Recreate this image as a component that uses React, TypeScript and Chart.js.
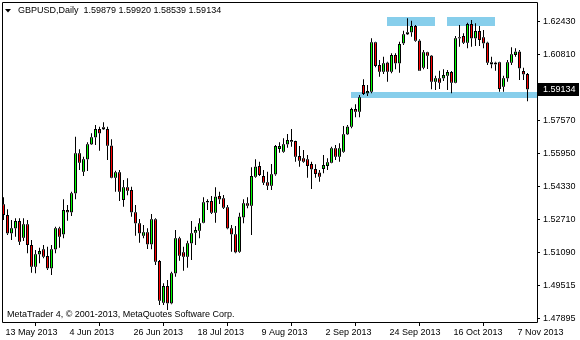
import React, { useEffect, useRef } from "react";
import { Chart, registerables } from "chart.js";

Chart.register(...registerables);

// ---------- data ----------
const symbolTitle = "GBPUSD,Daily";
const copyrightText = "MetaTrader 4, \u00A9 2001-2013, MetaQuotes Software Corp.";

const xTickLabels = [
  "13 May 2013", "4 Jun 2013", "26 Jun 2013", "18 Jul 2013", "9 Aug 2013",
  "2 Sep 2013", "24 Sep 2013", "16 Oct 2013", "7 Nov 2013",
];
const barsPerXTick = 16;

const yTickValues = [1.6243, 1.6081, 1.5757, 1.5595, 1.5433, 1.5271, 1.5109, 1.49515, 1.47895];

const opens = [
  1.53477, 1.52953, 1.52053, 1.52299, 1.52659, 1.51840, 1.52495, 1.51480, 1.50417, 1.51022,
  1.51268, 1.50940, 1.50335, 1.51268, 1.52299, 1.52004, 1.53199, 1.53084, 1.54017, 1.55981,
  1.55081, 1.55687, 1.56423, 1.56767, 1.57176, 1.57258, 1.57176, 1.56358, 1.54786, 1.55048,
  1.53690, 1.54312, 1.54181, 1.53084, 1.52544, 1.51939, 1.52102, 1.51513, 1.52741, 1.50695,
  1.48649, 1.49467, 1.48616, 1.50089, 1.51808, 1.51120, 1.50908, 1.51562, 1.52086, 1.52184,
  1.52577, 1.53575, 1.53641, 1.53068, 1.53886, 1.53772, 1.53330, 1.52299, 1.52004, 1.51153,
  1.52839, 1.53526, 1.53412, 1.54836, 1.55359, 1.54868, 1.54557, 1.54394, 1.54950, 1.56194,
  1.56063, 1.56423, 1.56554, 1.56587, 1.55850, 1.55736, 1.55687, 1.55457, 1.55212, 1.55032,
  1.55212, 1.55359, 1.55523, 1.56227, 1.55818, 1.56063, 1.56914, 1.57291, 1.58158, 1.58027,
  1.59336, 1.58927, 1.59009, 1.61431, 1.60318, 1.59991, 1.60433, 1.59991, 1.60809, 1.60400,
  1.61382, 1.61922, 1.61922, 1.62233, 1.61513, 1.60188, 1.60940, 1.60777, 1.59500, 1.59664,
  1.59664, 1.59795, 1.59975, 1.59451, 1.61677, 1.61742, 1.61415, 1.62332, 1.61628, 1.61988,
  1.61677, 1.61415, 1.60449, 1.60433, 1.60449, 1.59255, 1.59664, 1.60433, 1.60809, 1.60973,
  1.60024, 1.59879,
];
const highs = [
  1.53821, 1.53232, 1.52708, 1.52790, 1.52790, 1.52790, 1.52708, 1.51726, 1.51235, 1.51349,
  1.51480, 1.51399, 1.51480, 1.52381, 1.52381, 1.53723, 1.53444, 1.54099, 1.56800, 1.56178,
  1.55818, 1.56521, 1.56963, 1.57372, 1.57291, 1.57503, 1.57291, 1.56669, 1.55130, 1.55163,
  1.54672, 1.54754, 1.54345, 1.53444, 1.52757, 1.52462, 1.52299, 1.53002, 1.52790, 1.50744,
  1.49598, 1.49762, 1.50171, 1.52217, 1.51890, 1.51399, 1.51693, 1.52659, 1.52381, 1.52790,
  1.53821, 1.53723, 1.53886, 1.54312, 1.54099, 1.53935, 1.53444, 1.52462, 1.52413, 1.53068,
  1.53723, 1.53821, 1.55294, 1.55687, 1.55572, 1.55163, 1.55081, 1.55457, 1.56390, 1.56521,
  1.56718, 1.56930, 1.57176, 1.56603, 1.56341, 1.56145, 1.55899, 1.55572, 1.55441, 1.55163,
  1.55899, 1.55736, 1.56309, 1.56390, 1.56472, 1.57323, 1.57372, 1.58223, 1.58387, 1.58845,
  1.59615, 1.59336, 1.61628, 1.61464, 1.60564, 1.60728, 1.60482, 1.60891, 1.60891, 1.61464,
  1.62004, 1.62610, 1.62495, 1.62282, 1.61579, 1.61055, 1.60973, 1.60809, 1.59795, 1.60040,
  1.60106, 1.60073, 1.60024, 1.61742, 1.62282, 1.61873, 1.62397, 1.62528, 1.62364, 1.62233,
  1.62037, 1.61464, 1.60728, 1.60482, 1.60482, 1.59795, 1.60564, 1.61186, 1.61137, 1.61055,
  1.60188, 1.59920,
];
const lows = [
  1.52708, 1.51971, 1.51726, 1.51890, 1.51480, 1.51677, 1.51071, 1.50122, 1.50089, 1.50580,
  1.50826, 1.50253, 1.50007, 1.51071, 1.51349, 1.51808, 1.52675, 1.52904, 1.53723, 1.55163,
  1.54868, 1.55114, 1.56390, 1.56390, 1.56112, 1.57127, 1.55654, 1.54754, 1.54099, 1.53641,
  1.53363, 1.53919, 1.52872, 1.51939, 1.51595, 1.51808, 1.51284, 1.51268, 1.50498, 1.48534,
  1.48534, 1.48289, 1.48567, 1.49925, 1.50711, 1.50220, 1.50367, 1.50744, 1.51480, 1.51808,
  1.52544, 1.53199, 1.53002, 1.52577, 1.53494, 1.53248, 1.52250, 1.51153, 1.51071, 1.51104,
  1.52544, 1.53281, 1.51971, 1.54786, 1.54868, 1.54426, 1.54181, 1.54181, 1.54885, 1.56014,
  1.56014, 1.56259, 1.56309, 1.55572, 1.55327, 1.55523, 1.54786, 1.54230, 1.54786, 1.54590,
  1.54999, 1.55163, 1.55490, 1.55654, 1.55572, 1.56014, 1.56881, 1.57209, 1.57749, 1.57749,
  1.58845, 1.58796, 1.58927, 1.60204, 1.59746, 1.59877, 1.59500, 1.59909, 1.60106, 1.59942,
  1.61300, 1.61791, 1.61710, 1.61464, 1.60040, 1.60106, 1.60122, 1.59124, 1.59091, 1.59140,
  1.59533, 1.59091, 1.58927, 1.59418, 1.61219, 1.61350, 1.61137, 1.61219, 1.61251, 1.61251,
  1.61137, 1.60318, 1.60155, 1.60040, 1.59009, 1.59009, 1.59500, 1.60318, 1.60728, 1.59582,
  1.59582, 1.58539,
];
const closes = [
  1.52953, 1.52053, 1.52299, 1.52659, 1.51644, 1.52495, 1.51480, 1.50417, 1.51022, 1.51186,
  1.50908, 1.50335, 1.51268, 1.52299, 1.51890, 1.53199, 1.53084, 1.54017, 1.55981, 1.55523,
  1.55687, 1.56423, 1.56767, 1.57176, 1.56963, 1.57160, 1.56358, 1.54786, 1.55048, 1.54099,
  1.54312, 1.54148, 1.53084, 1.52544, 1.52053, 1.52102, 1.51513, 1.52741, 1.50662, 1.48747,
  1.49467, 1.48616, 1.50089, 1.51808, 1.50957, 1.50908, 1.51562, 1.52053, 1.52217, 1.52544,
  1.53575, 1.53641, 1.53068, 1.53854, 1.53723, 1.53313, 1.52299, 1.52004, 1.51120, 1.52872,
  1.53526, 1.53412, 1.54868, 1.55327, 1.54917, 1.54541, 1.54394, 1.54950, 1.56341, 1.56341,
  1.56423, 1.56636, 1.56636, 1.55818, 1.55621, 1.55572, 1.55359, 1.55196, 1.54966, 1.54835,
  1.55408, 1.55539, 1.56227, 1.55818, 1.56227, 1.56914, 1.57291, 1.58158, 1.58027, 1.58731,
  1.58895, 1.59042, 1.61431, 1.60269, 1.59991, 1.60400, 1.59991, 1.60809, 1.60400, 1.61350,
  1.61824, 1.61824, 1.62233, 1.61513, 1.60040, 1.60940, 1.60777, 1.59500, 1.59664, 1.59451,
  1.59827, 1.59975, 1.59451, 1.61628, 1.61628, 1.61415, 1.62332, 1.61628, 1.61988, 1.61546,
  1.61382, 1.60433, 1.60351, 1.60351, 1.59140, 1.59664, 1.60449, 1.60842, 1.60973, 1.60155,
  1.59860, 1.59134,
];

// highlighted zones (bar index from/to, price top/bottom); null "to" = runs to right edge
const zoneFrom = [86.9, 95.85, 110.85];
const zoneTo: (number | null)[] = [null, 107.9, 122.9];
const zoneTop = [1.59008, 1.6269, 1.6269];
const zoneBottom = [1.58713, 1.62234, 1.62234];

// ---------- styling ----------
const FONT = '"Liberation Sans", Arial, sans-serif';
const BULL = "#00FF00";
const BEAR = "#FF0000";
const ZONE = "#87CEEB";

export default function App() {
  const canvasRef = useRef<HTMLCanvasElement | null>(null);

  useEffect(() => {
    const canvas = canvasRef.current;
    if (!canvas) return;

    const idx = opens.map((_, i) => i);
    const bodyLo = idx.map((i) => Math.min(opens[i], closes[i]));
    const bodyHi = idx.map((i) => Math.max(opens[i], closes[i]));
    const isBull = idx.map((i) => closes[i] >= opens[i]);
    const upperWick = idx.map((i) => ({ x: i, y: [bodyHi[i], highs[i]] }));
    const lowerWick = idx.map((i) => ({ x: i, y: [lows[i], bodyLo[i]] }));
    const bodyEdge = idx.map((i) => ({ x: i, y: [bodyLo[i], bodyHi[i]] }));
    const bullFill = idx.map((i) => ({ x: i, y: isBull[i] ? [bodyLo[i], bodyHi[i]] : null }));
    const bearFill = idx.map((i) => ({ x: i, y: !isBull[i] ? [bodyLo[i], bodyHi[i]] : null }));
    const lastClose = closes[closes.length - 1];

    const overlay = {
      id: "mtOverlay",
      beforeDatasetsDraw(chart: any) {
        const { ctx, chartArea, scales } = chart;
        const xs = scales.x;
        const ys = scales.y;
        ctx.save();
        ctx.fillStyle = ZONE;
        for (let k = 0; k < zoneFrom.length; k++) {
          const x1 = Math.round(xs.getPixelForValue(zoneFrom[k]));
          const to = zoneTo[k];
          const x2 = to === null ? chartArea.right : Math.round(xs.getPixelForValue(to));
          const y1 = Math.round(ys.getPixelForValue(zoneTop[k]));
          const y2 = Math.round(ys.getPixelForValue(zoneBottom[k]));
          ctx.fillRect(x1, y1, x2 - x1, y2 - y1);
        }
        ctx.restore();
      },
      afterDraw(chart: any) {
        const { ctx, chartArea, scales } = chart;
        ctx.save();
        // frame
        ctx.strokeStyle = "#000";
        ctx.lineWidth = 1;
        ctx.beginPath();
        ctx.moveTo(chartArea.left - 0.5, chartArea.bottom + 0.5);
        ctx.lineTo(chartArea.left - 0.5, chartArea.top - 0.5);
        ctx.lineTo(chartArea.right + 0.5, chartArea.top - 0.5);
        ctx.lineTo(chartArea.right + 0.5, chartArea.bottom + 0.5);
        ctx.lineTo(chartArea.left - 0.5, chartArea.bottom + 0.5);
        ctx.stroke();

        // header
        ctx.fillStyle = "#000";
        ctx.beginPath();
        ctx.moveTo(5, 9);
        ctx.lineTo(11, 9);
        ctx.lineTo(8, 12.5);
        ctx.closePath();
        ctx.fill();
        ctx.font = `9px ${FONT}`;
        ctx.textBaseline = "middle";
        ctx.textAlign = "left";
        const hdr = `${symbolTitle}  ${opens[opens.length - 1].toFixed(5)} ${highs[highs.length - 1].toFixed(5)} ${lows[lows.length - 1].toFixed(5)} ${lastClose.toFixed(5)}`;
        ctx.fillText(hdr, 18, 11);

        // copyright
        ctx.fillText(copyrightText, 7, 315);

        // current price label
        const py = Math.round(scales.y.getPixelForValue(lastClose));
        ctx.fillStyle = "#000";
        ctx.fillRect(chartArea.right + 1, py - 6, 41, 13);
        ctx.fillStyle = "#fff";
        ctx.fillText(lastClose.toFixed(5), chartArea.right + 6, py + 0.5);
        ctx.restore();
      },
    };

    const thin = { barThickness: 1, inflateAmount: 0, minBarLength: 1 };
    const edgeStyle = { ...thin, backgroundColor: "#000", borderWidth: 0 };
    const fillStyle = {
      ...thin,
      borderColor: "#000",
      borderWidth: { top: 1, bottom: 1, left: 0, right: 0 },
      borderSkipped: false,
    };

    const chart = new Chart(canvas, {
      type: "bar",
      data: {
        datasets: [
          { label: "body left edge", data: bodyEdge as any, ...edgeStyle, stack: "L" } as any,
          { label: "bull body", data: bullFill as any, ...fillStyle, backgroundColor: BULL, stack: "M" } as any,
          { label: "bear body", data: bearFill as any, ...fillStyle, backgroundColor: BEAR, stack: "M" } as any,
          { label: "upper wick", data: upperWick as any, ...thin, minBarLength: 0, backgroundColor: "#000", borderWidth: 0, stack: "M" } as any,
          { label: "lower wick", data: lowerWick as any, ...thin, minBarLength: 0, backgroundColor: "#000", borderWidth: 0, stack: "M" } as any,
          { label: "body right edge", data: bodyEdge as any, ...edgeStyle, stack: "R" } as any,
        ],
      },
      options: {
        responsive: false,
        animation: false,
        devicePixelRatio: 1,
        layout: { padding: { left: 3, top: 3, right: 0, bottom: 0 } },
        plugins: { legend: { display: false }, tooltip: { enabled: false }, title: { display: false } },
        scales: {
          x: {
            type: "linear",
            stacked: true,
            bounds: "data",
            min: -0.125,
            max: 133.375,
            offset: false,
            afterBuildTicks: (s: any) => {
              s.ticks = xTickLabels.map((_, k) => ({ value: k * barsPerXTick }));
            },
            afterFit: (s: any) => {
              s.height = 18;
              s.paddingLeft = 0;
              s.paddingRight = 0;
            },
            ticks: {
              autoSkip: false,
              maxRotation: 0,
              minRotation: 0,
              align: "start",
              labelOffset: 2,
              padding: 1,
              color: "#000",
              font: { family: FONT, size: 9 },
              callback: (_v: any, i: number) => xTickLabels[i],
            },
            grid: { drawOnChartArea: false, drawTicks: true, tickLength: 4, color: "#000" },
            border: { display: false },
          } as any,
          y: {
            type: "linear",
            position: "right",
            stacked: false,
            bounds: "data",
            min: 1.477,
            max: 1.633629,
            afterBuildTicks: (s: any) => {
              s.ticks = yTickValues.map((v) => ({ value: v }));
            },
            afterFit: (s: any) => {
              s.width = 43;
              s.paddingTop = 0;
              s.paddingBottom = 0;
            },
            ticks: {
              autoSkip: false,
              padding: 3,
              color: "#000",
              font: { family: FONT, size: 9 },
              callback: (v: any) => Number(v).toFixed(5),
            },
            grid: { drawOnChartArea: false, drawTicks: true, tickLength: 3, color: "#000" },
            border: { display: false },
          } as any,
        },
      },
      plugins: [overlay],
    });

    return () => {
      chart.destroy();
    };
  }, []);

  return (
    <div style={{ position: "fixed", left: 0, top: 0, width: 580, height: 340, background: "#fff" }}>
      <canvas ref={canvasRef} width={580} height={340} style={{ display: "block", width: 580, height: 340 }} />
    </div>
  );
}
